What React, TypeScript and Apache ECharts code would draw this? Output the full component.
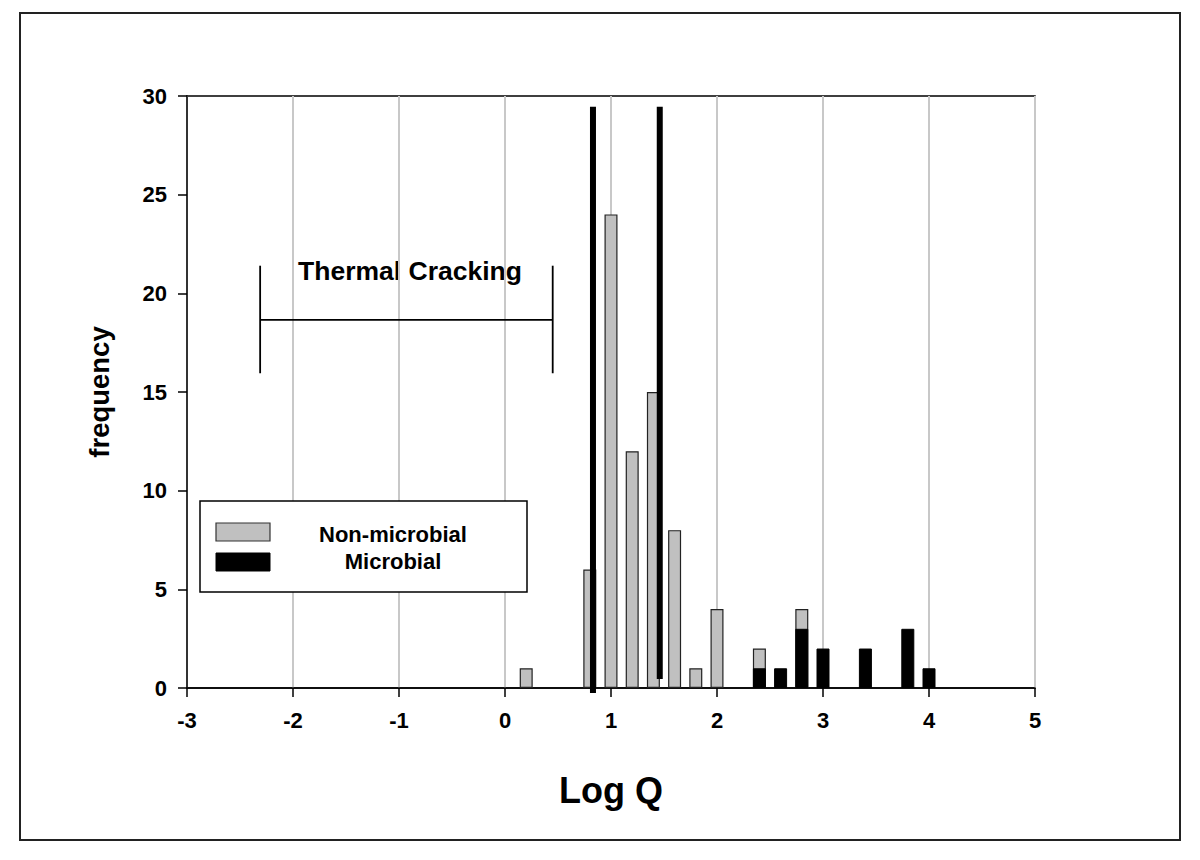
import React, { useEffect, useRef } from "react";
import * as echarts from "echarts";

// Bin centres (Log Q)
const binCentres = [0.2, 0.8, 1.0, 1.2, 1.4, 1.6, 1.8, 2.0, 2.4, 2.6, 2.8, 3.0, 3.4, 3.8, 4.0];
// Total bar heights (top of each stacked bar) per bin
const totalHeight = [1, 6, 24, 12, 15, 8, 1, 4, 2, null, 4, null, null, null, null];
// Microbial frequencies per bin (bottom, black part)
const microbial = [null, null, null, null, null, null, null, null, 1, 1, 3, 2, 2, 3, 1];

// Thick vertical reference lines: [x, yTop, yBottom]
const refLines = [
  [0.83, 29.45, -0.25],
  [1.46, 29.45, 0.45],
];
// Thermal cracking bracket: [xLeft, xRight, yLow, yMid, yHigh]
const bracket = [[-2.31, 0.45, 15.95, 18.65, 21.4]];

const xTicks = { min: -3, max: 5, interval: 1 };
const yTicks = { min: 0, max: 30, interval: 5 };

const FONT = "'Liberation Sans', Arial, sans-serif";

export default function App() {
  const ref = useRef<HTMLDivElement>(null);
  useEffect(() => {
    if (!ref.current) return;
    const chart = echarts.init(ref.current, undefined, { renderer: "svg" });
    const microData = binCentres.map((x, i) => [x, microbial[i]]);
    const totalData = binCentres.map((x, i) => [x, totalHeight[i]]);
    chart.setOption({
      animation: false,
      backgroundColor: "#ffffff",
      textStyle: { fontFamily: FONT },
      grid: {
        left: 187,
        right: 165,
        top: 96,
        bottom: 172,
        show: true,
        borderColor: "#000",
        borderWidth: 1.5,
        backgroundColor: "transparent",
      },
      xAxis: {
        type: "value",
        min: xTicks.min,
        max: xTicks.max,
        interval: xTicks.interval,
        name: "Log Q",
        nameLocation: "middle",
        nameGap: 84,
        nameTextStyle: { fontSize: 36, fontWeight: "bold", color: "#000", fontFamily: FONT },
        axisLine: { onZero: false, lineStyle: { color: "#000", width: 1.5 } },
        axisTick: { show: true, inside: false, length: 9, lineStyle: { color: "#000", width: 1.5 } },
        axisLabel: { fontSize: 22, fontWeight: "bold", color: "#000", margin: 21, fontFamily: FONT },
        splitLine: { show: true, lineStyle: { color: "#c8c8c8", width: 2 } },
      },
      yAxis: {
        type: "value",
        min: yTicks.min,
        max: yTicks.max,
        interval: yTicks.interval,
        name: "frequency",
        nameLocation: "middle",
        nameGap: 74,
        nameRotate: 90,
        nameTextStyle: { fontSize: 27.5, fontWeight: "bold", color: "#000", fontFamily: FONT },
        axisLine: { show: true, onZero: false, lineStyle: { color: "#000", width: 1.5 } },
        axisTick: { show: true, inside: false, length: 9, lineStyle: { color: "#000", width: 1.5 } },
        axisLabel: { fontSize: 22, fontWeight: "bold", color: "#000", margin: 20, fontFamily: FONT },
        splitLine: { show: false },
      },
      series: [
        {
          name: "Non-microbial",
          type: "bar",
          barWidth: 13,
          barGap: "-100%",
          data: totalData,
          itemStyle: { color: "#c0c0c0", borderColor: "#222", borderWidth: 1.2 },
          z: 2,
        },
        {
          name: "Microbial",
          type: "bar",
          barWidth: 13,
          barGap: "-100%",
          data: microData,
          itemStyle: { color: "#000", borderColor: "#000", borderWidth: 1 },
          z: 3,
        },
        {
          type: "custom",
          name: "refLines",
          clip: false,
          z: 5,
          encode: { x: 0, y: [1, 2] },
          data: refLines,
          renderItem: (params: any, api: any) => {
            const top = api.coord([api.value(0), api.value(1)]);
            const bot = api.coord([api.value(0), api.value(2)]);
            return {
              type: "line",
              shape: { x1: top[0], y1: top[1], x2: bot[0], y2: bot[1] },
              style: { stroke: "#000", lineWidth: 6 },
            };
          },
        },
        {
          type: "custom",
          name: "bracket",
          clip: false,
          z: 5,
          encode: { x: [0, 1], y: [2, 3, 4] },
          data: bracket,
          renderItem: (params: any, api: any) => {
            const xl = api.value(0), xr = api.value(1);
            const lo = api.value(2), mid = api.value(3), hi = api.value(4);
            const lm = api.coord([xl, mid]);
            const rm = api.coord([xr, mid]);
            const lt = api.coord([xl, hi]);
            const lb = api.coord([xl, lo]);
            const rt = api.coord([xr, hi]);
            const rb = api.coord([xr, lo]);
            const st = { stroke: "#000", lineWidth: 1.8 };
            return {
              type: "group",
              children: [
                { type: "line", shape: { x1: lm[0], y1: lm[1], x2: rm[0], y2: rm[1] }, style: st },
                { type: "line", shape: { x1: lt[0], y1: lt[1], x2: lb[0], y2: lb[1] }, style: st },
                { type: "line", shape: { x1: rt[0], y1: rt[1], x2: rb[0], y2: rb[1] }, style: st },
              ],
            };
          },
        },
      ],
      graphic: [
        {
          type: "rect",
          shape: { x: 20, y: 13, width: 1160, height: 827 },
          style: { fill: "none", stroke: "#222", lineWidth: 2 },
          silent: true,
        },
        {
          type: "text",
          x: 410,
          y: 271,
          style: {
            text: "Thermal Cracking",
            font: `bold 26.5px ${FONT}`,
            fill: "#000",
            align: "center",
            verticalAlign: "middle",
          },
        },
        {
          type: "rect",
          shape: { x: 200, y: 501, width: 327, height: 91 },
          style: { fill: "#fff", stroke: "#000", lineWidth: 1.5 },
          z: 10,
        },
        {
          type: "rect",
          shape: { x: 216, y: 523, width: 54, height: 18 },
          style: { fill: "#c0c0c0", stroke: "#333", lineWidth: 1.2 },
          z: 11,
        },
        {
          type: "rect",
          shape: { x: 216, y: 553, width: 54, height: 18 },
          style: { fill: "#000", stroke: "#000", lineWidth: 1 },
          z: 11,
        },
        {
          type: "text",
          x: 393,
          y: 534,
          z: 11,
          style: {
            text: "Non-microbial",
            font: `bold 22px ${FONT}`,
            fill: "#000",
            align: "center",
            verticalAlign: "middle",
          },
        },
        {
          type: "text",
          x: 393,
          y: 561,
          z: 11,
          style: {
            text: "Microbial",
            font: `bold 22px ${FONT}`,
            fill: "#000",
            align: "center",
            verticalAlign: "middle",
          },
        },
      ],
    });
    return () => chart.dispose();
  }, []);
  return (
    <div
      ref={ref}
      style={{ position: "absolute", left: 0, top: 0, width: 1200, height: 860, background: "#fff" }}
    />
  );
}
